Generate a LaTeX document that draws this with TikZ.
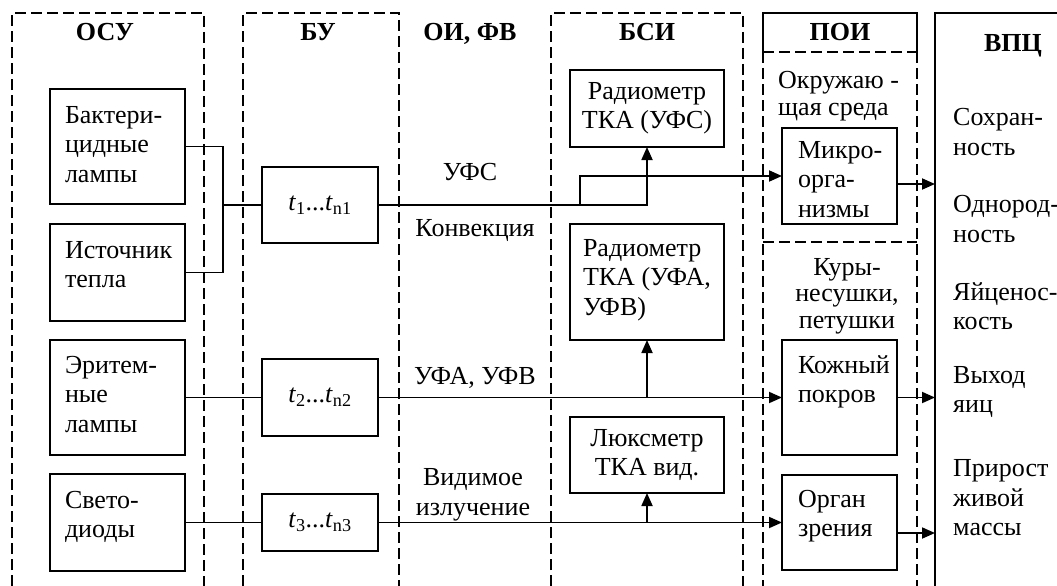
\documentclass[tikz,border=0pt]{standalone}
\usepackage{fontspec}
\setmainfont{Liberation Serif}
\usetikzlibrary{arrows.meta}
\newcommand{\tbx}[4]{\parbox[c][#2][t]{#1}{\raggedright\hfuzz=20pt\rule{0pt}{#3}#4}}
\begin{document}
\begin{tikzpicture}[x=1pt,y=-1pt,
  txt/.style={font=\fontsize{26}{29.5}\selectfont, inner sep=0pt},
  hdr/.style={font=\fontsize{26}{29}\selectfont\bfseries, inner sep=0pt, anchor=base},
  boxnode/.style={draw, line width=2pt, inner ysep=0pt, outer sep=0pt, font=\fontsize{26}{29.5}\selectfont, anchor=north west},
  dsh/.style={line width=1.8pt, dash pattern=on 11pt off 5pt},
  sld/.style={line width=2pt},
  conn/.style={line width=1.8pt},
  arr/.style={line width=1.8pt, -{Triangle[length=13pt,width=11pt]}}
]
\useasboundingbox (0,0) rectangle (1057,586);

% frames
\draw[dsh] (12,586) -- (12,13) -- (204,13) -- (204,586);
\draw[dsh] (243,586) -- (243,13) -- (399,13) -- (399,586);
\draw[dsh] (551,586) -- (551,13) -- (743,13) -- (743,586);
\draw[sld] (763,52) -- (763,13) -- (917,13) -- (917,52);
\draw[dsh] (763,52) -- (917,52);
\draw[dsh] (763,52) -- (763,586);
\draw[dsh] (917,52) -- (917,586);
\draw[dsh] (763,242) -- (917,242);
\draw[sld] (1057,13) -- (935,13) -- (935,586);

% headers
\node[hdr] (hosu) at (105,41) {ОСУ};
\node[hdr] (hbu) at (318,41) {БУ};
\node[hdr] (hoi) at (470,41) {ОИ, ФВ};
\node[hdr] (hbsi) at (647,41) {БСИ};
\node[hdr] (hpoi) at (840,41) {ПОИ};
\node[hdr] (hvpc) at (1013,52) {ВПЦ};

% OSU boxes
\node[boxnode, inner xsep=15pt] (bact) at (50,89) {\tbx{105pt}{115pt}{34pt}{\mbox{Бактери-}\\\mbox{цидные}\\\mbox{лампы}}};
\node[boxnode, inner xsep=15pt] (ist) at (50,224) {\tbx{105pt}{97pt}{34pt}{\mbox{Источник}\\\mbox{тепла}}};
\node[boxnode, inner xsep=15pt] (erit) at (50,340) {\tbx{105pt}{115pt}{33pt}{\mbox{Эритем-}\\\mbox{ные}\\\mbox{лампы}}};
\node[boxnode, inner xsep=15pt] (svet) at (50,474) {\tbx{105pt}{97pt}{34pt}{\mbox{Свето-}\\\mbox{диоды}}};

% BU boxes
\node[boxnode, inner xsep=0pt, minimum width=116pt, minimum height=76pt] (t1) at (262,167) {\textit{t}\textsubscript{1}...\textit{t}\textsubscript{n1}};
\node[boxnode, inner xsep=0pt, minimum width=116pt, minimum height=77pt] (t2) at (262,359) {\textit{t}\textsubscript{2}...\textit{t}\textsubscript{n2}};
\node[boxnode, inner xsep=0pt, minimum width=116pt, minimum height=57pt] (t3) at (262,494) {\textit{t}\textsubscript{3}...\textit{t}\textsubscript{n3}};

% BSI boxes
\node[boxnode, inner xsep=0pt, minimum width=154pt, minimum height=77pt, align=center] (rad1) at (570,70) {Радиометр\\ТКА (УФС)};
\node[boxnode, inner xsep=13pt] (rad2) at (570,224) {\tbx{128pt}{116pt}{32pt}{\mbox{Радиометр}\\\mbox{ТКА (УФА,}\\\mbox{УФВ)}}};
\node[boxnode, inner xsep=0pt, minimum width=154pt, minimum height=76pt, align=center] (lux) at (570,417) {Люксметр\\ТКА вид.};

% POI boxes
\node[boxnode, inner xsep=16pt] (mikro) at (782,128) {\tbx{83pt}{96pt}{30pt}{\mbox{Микро-}\\\mbox{орга-}\\\mbox{низмы}}};
\node[boxnode, inner xsep=16pt] (kozh) at (782,340) {\tbx{83pt}{115pt}{33pt}{\mbox{Кожный}\\\mbox{покров}}};
\node[boxnode, inner xsep=16pt] (organ) at (782,475) {\tbx{83pt}{95pt}{32pt}{\mbox{Орган}\\\mbox{зрения}}};

% POI texts
\node[txt, align=left, anchor=west, font=\fontsize{26}{27}\selectfont] (env) at (778,96) {Окружаю -\\щая среда};
\node[txt, align=center, font=\fontsize{26}{26.5}\selectfont] (kury) at (847,296) {Куры-\\несушки,\\петушки};

% VPC texts
\node[txt, align=left, anchor=west] (v1t) at (953,132) {Сохран-\\ность};
\node[txt, align=left, anchor=west] (v2t) at (953,219) {Однород-\\ность};
\node[txt, align=left, anchor=west] (v3t) at (953,306) {Яйценос-\\кость};
\node[txt, align=left, anchor=west] (v4t) at (953,392) {Выход\\яиц};
\node[txt, align=left, anchor=west] (v5t) at (953,498) {Прирост\\живой\\массы};

% OI, FV labels
\node[txt] (lufs) at (470,172) {УФС};
\node[txt] (lconv) at (475,230) {Конвекция};
\node[txt] (lufa) at (475,378) {УФА, УФВ};
\node[txt, align=center] (lvid) at (473,495) {Видимое\\излучение};

% connectors
\coordinate (j1) at (223,205);
\draw[conn] (bact.east) -| (j1);
\draw[conn] (ist.east) -| (j1);
\draw[conn] (j1) -- (t1.west);
\draw[conn] (erit.east) -- (t2.west);
\draw[conn] (svet.east) -- (t3.west);

\draw[arr] (t1.east) -| (rad1.south);
\coordinate (b1) at (580,205);
\draw[arr] (b1) |- (mikro.west);

\draw[arr] (t2.east) -- (kozh.west);
\draw[arr] (rad2.south |- t2.east) -- (rad2.south);
\draw[arr] (t3.east) -- (organ.west);
\draw[arr] (lux.south |- t3.east) -- (lux.south);

\coordinate (e1) at (935,184);
\coordinate (e2) at (935,397.5);
\coordinate (e3) at (935,533);
\draw[arr] (mikro.east |- e1) -- (e1);
\draw[arr] (kozh.east |- e2) -- (e2);
\draw[arr] (organ.east |- e3) -- (e3);
\end{tikzpicture}
\end{document}
